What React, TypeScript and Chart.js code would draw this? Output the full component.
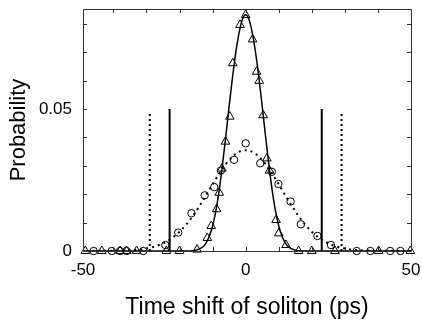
import React, { useEffect, useRef } from "react";
import { Chart, registerables } from "chart.js";

Chart.register(...registerables);

// Simulation histogram markers (triangles: solid case, circles: dotted case)
const triX = [-48.5, -43.5, -38, -36, -33, -24, -20, -14.7, -11.6, -10.4, -8.8, -8, -7.2, -6.1, -4.8, -3.9, -1.7, 0, 2.1, 3.3, 4.1, 5.3, 6.4, 7.2, 9.2, 10, 12.2, 16, 20, 27, 40.2, 49.8];
const triY = [0, 0, 0, 0, 0, 0, 0, 0.0005, 0.0046, 0.0088, 0.0147, 0.0205, 0.029, 0.0385, 0.0473, 0.0661, 0.0796, 0.0831, 0.0745, 0.0631, 0.0599, 0.0478, 0.0326, 0.0283, 0.0109, 0.0062, 0.0021, 0, 0, 0, 0, 0];

const circX = [-46, -40.5, -38, -36, -31, -24.3, -20.4, -16.4, -12.4, -9.5, -7.5, -3.5, 0, 4.4, 7.9, 9.9, 13.6, 16.7, 21.7, 25.8, 33.6, 37.7, 43.7, 46.8];
const circY = [0, 0, 0, 0, 0, 0.0021, 0.0065, 0.0133, 0.0196, 0.0225, 0.0283, 0.0321, 0.0379, 0.0309, 0.0279, 0.0236, 0.0174, 0.0094, 0.0053, 0.0021, 0, 0, 0, 0];

// Fitted curves
const solidCurveX = [-50, -18, -16, -15, -14, -13, -12, -11, -10, -9, -8, -7, -6, -5, -4, -3, -2, -1, 0, 1, 2, 3, 4, 5, 6, 7, 8, 9, 10, 11, 12, 13, 14, 15, 16, 18, 50];
const solidCurveY = [0, 0, 0.0001, 0.0003, 0.0007, 0.0014, 0.0028, 0.0052, 0.0088, 0.0142, 0.0215, 0.0305, 0.0405, 0.051, 0.061, 0.0698, 0.0768, 0.0815, 0.0832, 0.0815, 0.0768, 0.0698, 0.061, 0.051, 0.0405, 0.0305, 0.0215, 0.0142, 0.0088, 0.0052, 0.0028, 0.0014, 0.0007, 0.0003, 0.0001, 0, 0];

const dotCurveX = [-50, -40, -36, -34, -32, -30, -28, -26, -24, -22, -20, -18, -16, -14, -12, -10, -8, -6, -4, -2, 0, 2, 4, 6, 8, 10, 12, 14, 16, 18, 20, 22, 24, 26, 28, 30, 32, 34, 36, 40, 50];
const dotCurveY = [0, 0.0001, 0.0002, 0.0003, 0.0005, 0.0009, 0.0014, 0.0022, 0.0033, 0.0048, 0.0068, 0.0093, 0.0123, 0.0158, 0.0196, 0.0235, 0.0272, 0.0306, 0.0332, 0.0349, 0.0355, 0.0349, 0.0332, 0.0306, 0.0272, 0.0235, 0.0196, 0.0158, 0.0123, 0.0093, 0.0068, 0.0048, 0.0033, 0.0022, 0.0014, 0.0009, 0.0005, 0.0003, 0.0002, 0.0001, 0];

// Vertical cut lines
const solidCutX = [-23, 23];
const solidCutTop = 0.05;
const dotCutX = [-29, 29];
const dotCutTop = 0.049;

// Axes
const xMin = -49.2;
const xMax = 50;
const yMin = 0;
const yMax = 0.0852;
const xTickValues = [-50, -40, -30, -20, -10, 0, 10, 20, 30, 40, 50];
const xTickLabels = ["-50", "", "", "", "", "0", "", "", "", "", "50"];
const yTickValues = [0, 0.01, 0.02, 0.03, 0.04, 0.05, 0.06, 0.07, 0.08];
const yTickLabels = ["0", "", "", "", "", "0.05", "", "", ""];
const xTitle = "Time shift of soliton (ps)";
const yTitle = "Probability";

const FONT = "'Liberation Sans', Arial, Helvetica, sans-serif";

const zip = (xs: number[], ys: number[]) => xs.map((x, i) => ({ x, y: ys[i] }));

const noPad = (s: any) => {
  s.paddingTop = 0;
  s.paddingBottom = 0;
  s.paddingLeft = 0;
  s.paddingRight = 0;
};

const frameTicks = {
  id: "frameTicks",
  afterDatasetsDraw(chart: any) {
    const { ctx, chartArea, scales } = chart;
    const { left, right, top, bottom } = chartArea;
    ctx.save();
    ctx.strokeStyle = "#333";
    ctx.lineWidth = 1;
    ctx.beginPath();
    ctx.rect(Math.round(left) + 0.5, Math.round(top) + 0.5, Math.round(right - left), Math.round(bottom - top));
    ctx.stroke();
    const L = 4;
    ctx.beginPath();
    for (const v of xTickValues) {
      if (v <= xMin || v >= xMax) continue;
      const px = Math.round(scales.x.getPixelForValue(v)) + 0.5;
      ctx.moveTo(px, top);
      ctx.lineTo(px, top + L);
      ctx.moveTo(px, bottom);
      ctx.lineTo(px, bottom - L);
    }
    for (const v of yTickValues) {
      if (v <= yMin || v >= yMax) continue;
      const py = Math.round(scales.y.getPixelForValue(v)) + 0.5;
      ctx.moveTo(left, py);
      ctx.lineTo(left + L, py);
      ctx.moveTo(right, py);
      ctx.lineTo(right - L, py);
    }
    ctx.stroke();
    ctx.restore();
  },
};

export default function App() {
  const ref = useRef<HTMLCanvasElement | null>(null);
  useEffect(() => {
    if (!ref.current) return;
    const vline = (x: number, top: number) => [
      { x, y: 0 },
      { x, y: top },
    ];
    const chart = new Chart(ref.current, {
      type: "scatter",
      data: {
        datasets: [
          {
            data: zip(solidCurveX, solidCurveY),
            showLine: true,
            borderColor: "#000",
            borderWidth: 1.5,
            pointRadius: 0,
            cubicInterpolationMode: "monotone",
          } as any,
          {
            data: zip(dotCurveX, dotCurveY),
            showLine: true,
            borderColor: "#000",
            borderWidth: 2,
            borderDash: [2, 4],
            pointRadius: 0,
            cubicInterpolationMode: "monotone",
          } as any,
          ...solidCutX.map((x) => ({
            data: vline(x, solidCutTop),
            showLine: true,
            borderColor: "#000",
            borderWidth: 2,
            pointRadius: 0,
          })),
          ...dotCutX.map((x) => ({
            data: vline(x, dotCutTop),
            showLine: true,
            borderColor: "#000",
            borderWidth: 2,
            borderDash: [2, 3],
            pointRadius: 0,
          })),
          {
            data: zip(triX, triY),
            showLine: false,
            pointStyle: "triangle",
            pointRadius: 5,
            borderColor: "#000",
            borderWidth: 1,
            backgroundColor: "rgba(255,255,255,0)",
            clip: false,
          } as any,
          {
            data: zip(circX, circY),
            showLine: false,
            pointStyle: "circle",
            pointRadius: 3.7,
            borderColor: "#000",
            borderWidth: 1,
            backgroundColor: "rgba(255,255,255,0)",
            clip: false,
          } as any,
        ],
      },
      options: {
        animation: false,
        responsive: false,
        layout: { padding: { top: 9, right: 11, left: 0, bottom: 0 } },
        plugins: { legend: { display: false }, tooltip: { enabled: false } },
        scales: {
          x: {
            type: "linear",
            min: xMin,
            max: xMax,
            afterBuildTicks: (s: any) => {
              s.ticks = xTickValues.map((v) => ({ value: Math.max(v, xMin) }));
            },
            afterFit: (s: any) => {
              s.height = 72;
              noPad(s);
            },
            ticks: {
              autoSkip: false,
              maxRotation: 0,
              padding: 9,
              color: "#000",
              font: { family: FONT, size: 17 },
              callback: (_v: any, i: number) => xTickLabels[i],
            },
            grid: { display: false, drawTicks: false },
            border: { display: false },
            title: {
              display: true,
              text: xTitle,
              color: "#000",
              font: { family: FONT, size: 23 },
              padding: { top: 0, bottom: 2 },
            },
          },
          y: {
            type: "linear",
            min: yMin,
            max: yMax,
            afterBuildTicks: (s: any) => {
              s.ticks = yTickValues.map((v) => ({ value: v }));
            },
            afterFit: (s: any) => {
              s.width = 83;
              noPad(s);
            },
            ticks: {
              autoSkip: false,
              padding: 11,
              color: "#000",
              font: { family: FONT, size: 17 },
              callback: (_v: any, i: number) => yTickLabels[i],
            },
            grid: { display: false, drawTicks: false },
            border: { display: false },
            title: {
              display: true,
              text: yTitle,
              color: "#000",
              font: { family: FONT, size: 22 },
              padding: { top: 6, bottom: 0 },
            },
          },
        },
      },
      plugins: [frameTicks],
    } as any);
    return () => chart.destroy();
  }, []);
  return (
    <div style={{ position: "fixed", left: 0, top: 0, width: 422, height: 323, background: "#fff" }}>
      <canvas ref={ref} width={422} height={323} style={{ display: "block" }} />
    </div>
  );
}
